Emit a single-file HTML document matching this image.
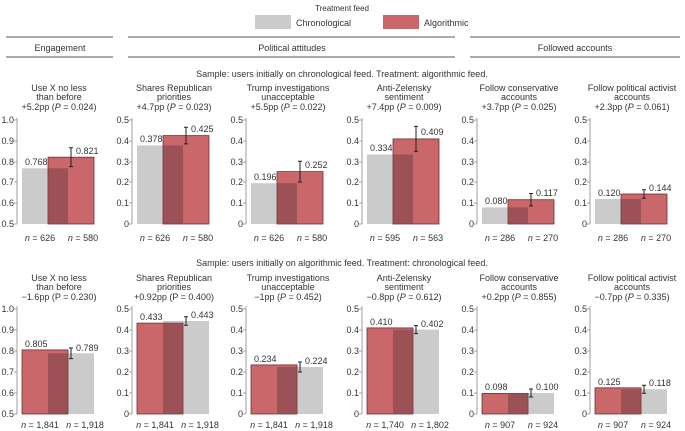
<!DOCTYPE html>
<html><head><meta charset="utf-8"><style>
body{margin:0;background:#fff}
svg{display:block;font-family:"Liberation Sans",sans-serif;fill:#333}
text{font-size:9px}
.t{text-anchor:middle}
.r{text-anchor:end}
.g{fill:#cbcbcb}.rd{fill:#c9676b;stroke:#6e3034;stroke-width:.8}.ov{fill:#9c5156}
.ax{stroke:#888;stroke-width:.8;fill:none}
.e{stroke:#222;stroke-width:1;fill:none}
</style></head><body>
<svg width="685" height="431" viewBox="0 0 685 431">
<text class="t" x="342" y="11" style="font-size:8px">Treatment feed</text>
<rect x="255" y="15" width="36" height="14" class="g"/><text x="296" y="26">Chronological</text>
<rect x="383" y="15" width="36" height="14" fill="#c9676b"/><text x="424" y="26">Algorithmic</text>
<g stroke="#555" stroke-width="1"><line x1="6" y1="37" x2="113" y2="37"/><line x1="6" y1="57" x2="113" y2="57"/>
<line x1="128" y1="37" x2="455" y2="37"/><line x1="128" y1="57" x2="455" y2="57"/>
<line x1="470" y1="37" x2="680" y2="37"/><line x1="470" y1="57" x2="680" y2="57"/></g>
<text class="t" x="60" y="51">Engagement</text><text class="t" x="292" y="51">Political attitudes</text><text class="t" x="575" y="51">Followed accounts</text>
<text class="t" x="342" y="77">Sample: users initially on chronological feed. Treatment: algorithmic feed.</text>
<text class="t" x="342" y="266">Sample: users initially on algorithmic feed. Treatment: chronological feed.</text>

<g class="t">
<text class="t" x="59" y="91">Use X no less</text><text class="t" x="59" y="100">than before</text><text class="t" x="59" y="110">+5.2pp (<tspan font-style="italic">P</tspan> = 0.024)</text>
<text class="t" x="174" y="91">Shares Republican</text><text class="t" x="174" y="100">priorities</text><text class="t" x="174" y="110">+4.7pp (<tspan font-style="italic">P</tspan> = 0.023)</text>
<text class="t" x="288" y="91">Trump investigations</text><text class="t" x="288" y="100">unacceptable</text><text class="t" x="288" y="110">+5.5pp (<tspan font-style="italic">P</tspan> = 0.022)</text>
<text class="t" x="404" y="91">Anti-Zelensky</text><text class="t" x="404" y="100">sentiment</text><text class="t" x="404" y="110">+7.4pp (<tspan font-style="italic">P</tspan> = 0.009)</text>
<text class="t" x="519" y="91">Follow conservative</text><text class="t" x="519" y="100">accounts</text><text class="t" x="519" y="110">+3.7pp (<tspan font-style="italic">P</tspan> = 0.025)</text>
<text class="t" x="632" y="91">Follow political activist</text><text class="t" x="632" y="100">accounts</text><text class="t" x="632" y="110">+2.3pp (<tspan font-style="italic">P</tspan> = 0.061)</text>
<text class="t" x="59" y="281">Use X no less</text><text class="t" x="59" y="290">than before</text><text class="t" x="59" y="300">−1.6pp (P = 0.230)</text>
<text class="t" x="174" y="281">Shares Republican</text><text class="t" x="174" y="290">priorities</text><text class="t" x="174" y="300">+0.92pp (P = 0.400)</text>
<text class="t" x="288" y="281">Trump investigations</text><text class="t" x="288" y="290">unacceptable</text><text class="t" x="288" y="300">−1pp (<tspan font-style="italic">P</tspan> = 0.452)</text>
<text class="t" x="404" y="281">Anti-Zelensky</text><text class="t" x="404" y="290">sentiment</text><text class="t" x="404" y="300">−0.8pp (<tspan font-style="italic">P</tspan> = 0.612)</text>
<text class="t" x="519" y="281">Follow conservative</text><text class="t" x="519" y="290">accounts</text><text class="t" x="519" y="300">+0.2pp (<tspan font-style="italic">P</tspan> = 0.855)</text>
<text class="t" x="632" y="281">Follow political activist</text><text class="t" x="632" y="290">accounts</text><text class="t" x="632" y="300">−0.7pp (<tspan font-style="italic">P</tspan> = 0.335)</text>
</g>

<g class="ax">
<path d="M17 118V224M14 120H17M14 141H17M14 162H17M14 182H17M14 203H17M14 224H17"/>
<path d="M132 118V224M129 120H132M129 141H132M129 162H132M129 182H132M129 203H132M129 224H132"/>
<path d="M246 118V224M243 120H246M243 141H246M243 162H246M243 182H246M243 203H246M243 224H246"/>
<path d="M362 118V224M359 120H362M359 141H362M359 162H362M359 182H362M359 203H362M359 224H362"/>
<path d="M477 118V224M474 120H477M474 141H477M474 162H477M474 182H477M474 203H477M474 224H477"/>
<path d="M590 118V224M587 120H590M587 141H590M587 162H590M587 182H590M587 203H590M587 224H590"/>
</g>
<g>
<text class="r" x="14" y="123">1.0</text><text class="r" x="14" y="144">0.9</text><text class="r" x="14" y="165">0.8</text><text class="r" x="14" y="185">0.7</text><text class="r" x="14" y="206">0.6</text><text class="r" x="14" y="227">0.5</text>
<text class="r" x="129" y="123">0.5</text><text class="r" x="129" y="144">0.4</text><text class="r" x="129" y="165">0.3</text><text class="r" x="129" y="185">0.2</text><text class="r" x="129" y="206">0.1</text><text class="r" x="129" y="227">0</text>
<text class="r" x="243" y="123">0.5</text><text class="r" x="243" y="144">0.4</text><text class="r" x="243" y="165">0.3</text><text class="r" x="243" y="185">0.2</text><text class="r" x="243" y="206">0.1</text><text class="r" x="243" y="227">0</text>
<text class="r" x="359" y="123">0.5</text><text class="r" x="359" y="144">0.4</text><text class="r" x="359" y="165">0.3</text><text class="r" x="359" y="185">0.2</text><text class="r" x="359" y="206">0.1</text><text class="r" x="359" y="227">0</text>
<text class="r" x="474" y="123">0.5</text><text class="r" x="474" y="144">0.4</text><text class="r" x="474" y="165">0.3</text><text class="r" x="474" y="185">0.2</text><text class="r" x="474" y="206">0.1</text><text class="r" x="474" y="227">0</text>
<text class="r" x="587" y="123">0.5</text><text class="r" x="587" y="144">0.4</text><text class="r" x="587" y="165">0.3</text><text class="r" x="587" y="185">0.2</text><text class="r" x="587" y="206">0.1</text><text class="r" x="587" y="227">0</text>
</g>
<rect class="g" x="22" y="168.3" width="46" height="55.7"/><rect class="rd" x="48" y="157.2" width="46" height="66.8"/><rect class="ov" x="48.4" y="168.3" width="19.6" height="55.3"/>
<path class="e" d="M71 147.8V166.6M69 147.8H73M69 166.6H73"/><text x="25" y="165">0.768</text><text x="76" y="154">0.821</text>
<rect class="g" x="137" y="145.4" width="46" height="78.6"/><rect class="rd" x="163" y="135.6" width="46" height="88.4"/><rect class="ov" x="163.4" y="145.4" width="19.6" height="78.2"/>
<path class="e" d="M186 127.3V143.9M184 127.3H188M184 143.9H188"/><text x="140" y="142">0.378</text><text x="191" y="132">0.425</text>
<rect class="g" x="251" y="183.2" width="46" height="40.8"/><rect class="rd" x="277" y="171.6" width="46" height="52.4"/><rect class="ov" x="277.4" y="183.2" width="19.6" height="40.4"/>
<path class="e" d="M300 161.2V182M298 161.2H302M298 182H302"/><text x="254" y="180">0.196</text><text x="305" y="168">0.252</text>
<rect class="g" x="367" y="154.5" width="46" height="69.5"/><rect class="rd" x="393" y="138.9" width="46" height="85.1"/><rect class="ov" x="393.4" y="154.5" width="19.6" height="69.1"/>
<path class="e" d="M416 126.4V151.4M414 126.4H418M414 151.4H418"/><text x="370" y="151">0.334</text><text x="421" y="135">0.409</text>
<rect class="g" x="482" y="207.4" width="46" height="16.6"/><rect class="rd" x="508" y="199.7" width="46" height="24.3"/><rect class="ov" x="508.4" y="207.4" width="19.6" height="16.2"/>
<path class="e" d="M531 193.5V205.9M529 193.5H533M529 205.9H533"/><text x="485" y="204">0.080</text><text x="536" y="196">0.117</text>
<rect class="g" x="595" y="199" width="46" height="25"/><rect class="rd" x="621" y="194" width="46" height="30"/><rect class="ov" x="621.4" y="199" width="19.6" height="24.6"/>
<path class="e" d="M644 189.8V198.2M642 189.8H646M642 198.2H646"/><text x="598" y="196">0.120</text><text x="649" y="191">0.144</text>
<g>
<text class="t" x="40" y="241"><tspan font-style="italic">n</tspan> = 626</text><text class="t" x="83" y="241"><tspan font-style="italic">n</tspan> = 580</text>
<text class="t" x="155" y="241"><tspan font-style="italic">n</tspan> = 626</text><text class="t" x="198" y="241"><tspan font-style="italic">n</tspan> = 580</text>
<text class="t" x="269" y="241"><tspan font-style="italic">n</tspan> = 626</text><text class="t" x="312" y="241"><tspan font-style="italic">n</tspan> = 580</text>
<text class="t" x="385" y="241"><tspan font-style="italic">n</tspan> = 595</text><text class="t" x="428" y="241"><tspan font-style="italic">n</tspan> = 563</text>
<text class="t" x="500" y="241"><tspan font-style="italic">n</tspan> = 286</text><text class="t" x="543" y="241"><tspan font-style="italic">n</tspan> = 270</text>
<text class="t" x="613" y="241"><tspan font-style="italic">n</tspan> = 286</text><text class="t" x="656" y="241"><tspan font-style="italic">n</tspan> = 270</text>
</g>

<g class="ax">
<path d="M17 306V414M14 309H17M14 330H17M14 351H17M14 372H17M14 393H17M14 414H17"/>
<path d="M132 306V414M129 309H132M129 330H132M129 351H132M129 372H132M129 393H132M129 414H132"/>
<path d="M246 306V414M243 309H246M243 330H246M243 351H246M243 372H246M243 393H246M243 414H246"/>
<path d="M362 306V414M359 309H362M359 330H362M359 351H362M359 372H362M359 393H362M359 414H362"/>
<path d="M477 306V414M474 309H477M474 330H477M474 351H477M474 372H477M474 393H477M474 414H477"/>
<path d="M590 306V414M587 309H590M587 330H590M587 351H590M587 372H590M587 393H590M587 414H590"/>
</g>
<g>
<text class="r" x="14" y="312">1.0</text><text class="r" x="14" y="333">0.9</text><text class="r" x="14" y="354">0.8</text><text class="r" x="14" y="375">0.7</text><text class="r" x="14" y="396">0.6</text><text class="r" x="14" y="417">0.5</text>
<text class="r" x="129" y="312">0.5</text><text class="r" x="129" y="333">0.4</text><text class="r" x="129" y="354">0.3</text><text class="r" x="129" y="375">0.2</text><text class="r" x="129" y="396">0.1</text><text class="r" x="129" y="417">0</text>
<text class="r" x="243" y="312">0.5</text><text class="r" x="243" y="333">0.4</text><text class="r" x="243" y="354">0.3</text><text class="r" x="243" y="375">0.2</text><text class="r" x="243" y="396">0.1</text><text class="r" x="243" y="417">0</text>
<text class="r" x="359" y="312">0.5</text><text class="r" x="359" y="333">0.4</text><text class="r" x="359" y="354">0.3</text><text class="r" x="359" y="375">0.2</text><text class="r" x="359" y="396">0.1</text><text class="r" x="359" y="417">0</text>
<text class="r" x="474" y="312">0.5</text><text class="r" x="474" y="333">0.4</text><text class="r" x="474" y="354">0.3</text><text class="r" x="474" y="375">0.2</text><text class="r" x="474" y="396">0.1</text><text class="r" x="474" y="417">0</text>
<text class="r" x="587" y="312">0.5</text><text class="r" x="587" y="333">0.4</text><text class="r" x="587" y="354">0.3</text><text class="r" x="587" y="375">0.2</text><text class="r" x="587" y="396">0.1</text><text class="r" x="587" y="417">0</text>
</g>
<rect class="g" x="48" y="353.3" width="46" height="60.7"/><rect class="rd" x="22" y="349.9" width="46" height="64.1"/><rect class="ov" x="48" y="353.3" width="19.6" height="60.3"/>
<path class="e" d="M71 348V358.6M69 348H73M69 358.6H73"/><text x="25" y="347">0.805</text><text x="76" y="351">0.789</text>
<rect class="g" x="163" y="321" width="46" height="93"/><rect class="rd" x="137" y="323.1" width="46" height="90.9"/><rect class="ov" x="163" y="323.1" width="19.6" height="90.5"/>
<path class="e" d="M186 316.8V325.2M184 316.8H188M184 325.2H188"/><text x="140" y="320">0.433</text><text x="191" y="318">0.443</text>
<rect class="g" x="277" y="367" width="46" height="47"/><rect class="rd" x="251" y="364.9" width="46" height="49.1"/><rect class="ov" x="277" y="367" width="19.6" height="46.6"/>
<path class="e" d="M300 362V372M298 362H302M298 372H302"/><text x="254" y="362">0.234</text><text x="305" y="364">0.224</text>
<rect class="g" x="393" y="329.6" width="46" height="84.4"/><rect class="rd" x="367" y="327.9" width="46" height="86.1"/><rect class="ov" x="393" y="329.6" width="19.6" height="84"/>
<path class="e" d="M416 325.6V333.6M414 325.6H418M414 333.6H418"/><text x="370" y="325">0.410</text><text x="421" y="327">0.402</text>
<rect class="g" x="508" y="393" width="46" height="21"/><rect class="rd" x="482" y="393.4" width="46" height="20.6"/><rect class="ov" x="508" y="393.4" width="19.6" height="20.2"/>
<path class="e" d="M531 389V397M529 389H533M529 397H533"/><text x="485" y="390">0.098</text><text x="536" y="390">0.100</text>
<rect class="g" x="621" y="389.2" width="46" height="24.8"/><rect class="rd" x="595" y="387.8" width="46" height="26.2"/><rect class="ov" x="621" y="389.2" width="19.6" height="24.4"/>
<path class="e" d="M644 385.2V393.2M642 385.2H646M642 393.2H646"/><text x="598" y="385">0.125</text><text x="649" y="386">0.118</text>
<g>
<text class="t" x="40" y="428"><tspan font-style="italic">n</tspan> = 1,841</text><text class="t" x="85" y="428"><tspan font-style="italic">n</tspan> = 1,918</text>
<text class="t" x="155" y="428"><tspan font-style="italic">n</tspan> = 1,841</text><text class="t" x="200" y="428"><tspan font-style="italic">n</tspan> = 1,918</text>
<text class="t" x="269" y="428"><tspan font-style="italic">n</tspan> = 1,841</text><text class="t" x="314" y="428"><tspan font-style="italic">n</tspan> = 1,918</text>
<text class="t" x="385" y="428"><tspan font-style="italic">n</tspan> = 1,740</text><text class="t" x="430" y="428"><tspan font-style="italic">n</tspan> = 1,802</text>
<text class="t" x="500" y="428"><tspan font-style="italic">n</tspan> = 907</text><text class="t" x="543" y="428"><tspan font-style="italic">n</tspan> = 924</text>
<text class="t" x="613" y="428"><tspan font-style="italic">n</tspan> = 907</text><text class="t" x="656" y="428"><tspan font-style="italic">n</tspan> = 924</text>
</g>
</svg>
</body></html>
